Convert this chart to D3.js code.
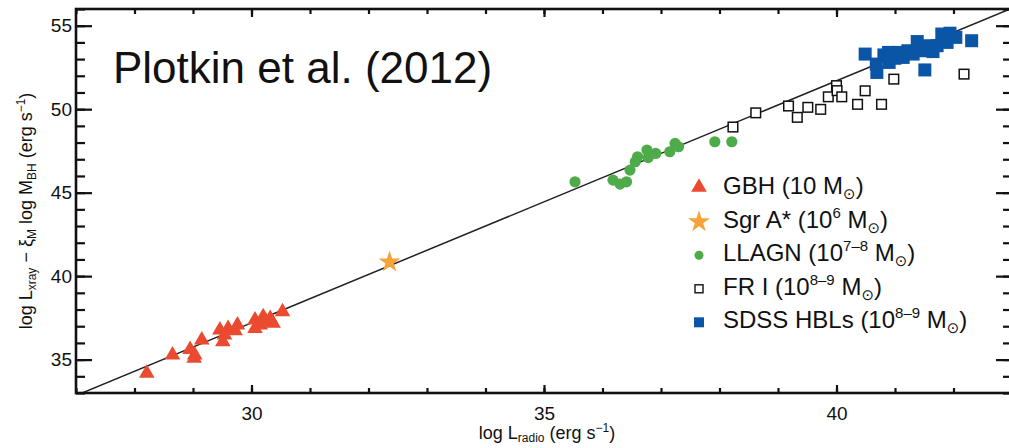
<!DOCTYPE html>
<html>
<head>
<meta charset="utf-8">
<script src="https://cdn.jsdelivr.net/npm/d3@7"></script>
<style>
  html, body { margin: 0; padding: 0; background: #fff; }
  svg { display: block; }
  text { font-family: "Liberation Sans", Arial, sans-serif; fill: #111; }
</style>
</head>
<body>
<svg id="chart" width="1009" height="448"></svg>
<script>
// Fundamental plane of black hole activity: log L_radio vs mass-corrected log L_xray
const gbh = [
  [28.21, 34.18], [28.65, 35.28], [28.95, 35.60], [29.03, 35.28], [29.02, 35.08],
  [29.15, 36.17], [29.46, 36.77], [29.51, 36.07], [29.54, 36.47], [29.60, 36.87],
  [29.72, 36.73], [29.76, 37.07], [30.06, 37.37], [30.06, 36.87], [30.15, 37.07],
  [30.20, 37.57], [30.25, 37.27], [30.32, 37.47], [30.37, 37.17], [30.53, 37.87]
];
const sgrA = [[32.36, 40.90]];
const llagn = [
  [35.53, 45.65], [36.18, 45.75], [36.30, 45.51], [36.41, 45.65], [36.47, 46.35],
  [36.56, 46.85], [36.60, 47.15], [36.76, 47.55], [36.78, 47.10], [36.91, 47.35],
  [37.15, 47.45], [37.24, 47.95], [37.30, 47.75], [37.92, 48.05], [38.21, 48.05]
];
const fr1 = [
  [38.23, 48.93], [38.62, 49.78], [39.18, 50.19], [39.33, 49.51], [39.51, 50.11],
  [39.73, 49.99], [39.86, 50.74], [40.00, 51.41], [40.01, 51.11], [40.09, 50.74],
  [40.36, 50.29], [40.49, 51.10], [40.77, 50.29], [40.98, 51.80], [42.18, 52.10]
];
const hbl = [
  [40.49, 53.30], [40.68, 52.70], [40.69, 52.20], [40.81, 53.25], [40.89, 53.40],
  [40.90, 52.80], [41.00, 53.05], [41.06, 53.40], [41.14, 53.10], [41.22, 53.50],
  [41.31, 53.30], [41.38, 54.05], [41.46, 53.50], [41.51, 52.35], [41.56, 53.80],
  [41.65, 53.45], [41.72, 53.80], [41.80, 54.50], [41.89, 54.00], [41.94, 54.55],
  [42.04, 54.30], [42.31, 54.10]
];

// Best-fit plane projection: y = slope * x + intercept
const fitSlope = 1.45;
const fitIntercept = -6.3;

const xMajor = [30, 35, 40];
const xMinor = d3.range(27, 44);
const yMajor = [35, 40, 45, 50, 55];
const yMinor = d3.range(33, 57);

const legendItems = [
  { key: "gbh",   name: "GBH (10",       sup: "" },
  { key: "sgr",   name: "Sgr A* (10",    sup: "6" },
  { key: "llagn", name: "LLAGN (10",     sup: "7–8" },
  { key: "fr1",   name: "FR I (10",      sup: "8–9" },
  { key: "hbl",   name: "SDSS HBLs (10", sup: "8–9" }
];

const colors = { gbh: "#ea4a2f", sgr: "#f6a43a", llagn: "#4fab4a", fr1: "#111", hbl: "#0b55a7" };

const svg = d3.select("#chart");
const pLeft = 76, pRight = 1012, pTop = 9, pBottom = 393;

const x = d3.scaleLinear().domain([27, 43]).range([pLeft, pRight]);
const y = d3.scaleLinear().domain([33, 56]).range([pBottom, pTop]);

svg.append("defs").append("clipPath").attr("id", "plotClip")
  .append("rect").attr("x", pLeft).attr("y", pTop)
  .attr("width", pRight - pLeft).attr("height", pBottom - pTop);

const plot = svg.append("g").attr("clip-path", "url(#plotClip)");

// Fit line
const fitLine = d3.line().x(d => x(d)).y(d => y(fitSlope * d + fitIntercept));
plot.append("path")
  .datum([26, 44])
  .attr("d", fitLine)
  .attr("fill", "none")
  .attr("stroke", "#222")
  .attr("stroke-width", 1.5);

// Markers
const tri = d3.symbol().type(d3.symbolTriangle).size(105);
const star = d3.symbol().type(d3.symbolStar).size(150);

plot.selectAll(".gbh").data(gbh).join("path")
  .attr("d", tri)
  .attr("transform", d => `translate(${x(d[0])},${y(d[1])})`)
  .attr("fill", colors.gbh);

plot.selectAll(".llagn").data(llagn).join("circle")
  .attr("cx", d => x(d[0])).attr("cy", d => y(d[1])).attr("r", 5.6)
  .attr("fill", colors.llagn);

plot.selectAll(".fr1").data(fr1).join("rect")
  .attr("x", d => x(d[0]) - 4.8).attr("y", d => y(d[1]) - 4.8)
  .attr("width", 9.6).attr("height", 9.6)
  .attr("fill", "#fff").attr("stroke", colors.fr1).attr("stroke-width", 1.5);

plot.selectAll(".hbl").data(hbl).join("rect")
  .attr("x", d => x(d[0]) - 6.5).attr("y", d => y(d[1]) - 6.5)
  .attr("width", 13).attr("height", 13)
  .attr("fill", colors.hbl);

plot.selectAll(".sgr").data(sgrA).join("path")
  .attr("d", star)
  .attr("transform", d => `translate(${x(d[0])},${y(d[1]) + 1})`)
  .attr("fill", colors.sgr);

// Axes: inward ticks on all four sides
function styleAxis(g) {
  g.select(".domain").remove();
  g.selectAll(".tick line").attr("stroke", "#111").attr("stroke-width", 2.2);
  g.selectAll("text").attr("font-size", 19).attr("fill", "#111")
    .attr("font-family", "'Liberation Sans', Arial, sans-serif");
}

svg.append("g").attr("transform", `translate(0,${pBottom})`)
  .call(d3.axisBottom(x).tickValues(xMinor).tickSize(-5).tickFormat(""))
  .call(styleAxis);
svg.append("g").attr("transform", `translate(0,${pBottom})`)
  .call(d3.axisBottom(x).tickValues(xMajor).tickSize(-8).tickPadding(14).tickFormat(d3.format("d")))
  .call(styleAxis);

svg.append("g").attr("transform", `translate(0,${pTop})`)
  .call(d3.axisTop(x).tickValues(xMinor).tickSize(-5).tickFormat(""))
  .call(styleAxis);
svg.append("g").attr("transform", `translate(0,${pTop})`)
  .call(d3.axisTop(x).tickValues(xMajor).tickSize(-8).tickFormat(""))
  .call(styleAxis);

svg.append("g").attr("transform", `translate(${pLeft},0)`)
  .call(d3.axisLeft(y).tickValues(yMinor).tickSize(-9).tickFormat(""))
  .call(styleAxis);
svg.append("g").attr("transform", `translate(${pLeft},0)`)
  .call(d3.axisLeft(y).tickValues(yMajor).tickSize(-16).tickPadding(4).tickFormat(d3.format("d")))
  .call(styleAxis);

svg.append("g").attr("transform", `translate(${pRight},0)`)
  .call(d3.axisRight(y).tickValues(yMinor).tickSize(-9).tickFormat(""))
  .call(styleAxis);
svg.append("g").attr("transform", `translate(${pRight},0)`)
  .call(d3.axisRight(y).tickValues(yMajor).tickSize(-16).tickFormat(""))
  .call(styleAxis);

// Frame
svg.append("rect")
  .attr("x", pLeft).attr("y", pTop)
  .attr("width", pRight - pLeft).attr("height", pBottom - pTop)
  .attr("fill", "none").attr("stroke", "#111").attr("stroke-width", 2.6);

// Axis titles
const xt = svg.append("text")
  .attr("x", (pLeft + pRight) / 2 + 3).attr("y", 439)
  .attr("text-anchor", "middle").attr("font-size", 18);
xt.append("tspan").text("log L");
xt.append("tspan").attr("font-size", 12).attr("dy", 3).text("radio");
xt.append("tspan").attr("dy", -3).text(" (erg s");
xt.append("tspan").attr("font-size", 12).attr("dy", -7).text("−1");
xt.append("tspan").attr("dy", 7).text(")");

const yt = svg.append("text")
  .attr("transform", `translate(32,${(pTop + pBottom) / 2 + 10}) rotate(-90)`)
  .attr("text-anchor", "middle").attr("font-size", 18);
yt.append("tspan").text("log L");
yt.append("tspan").attr("font-size", 12).attr("dy", 4).text("xray");
yt.append("tspan").attr("dy", -4).text(" − ξ");
yt.append("tspan").attr("font-size", 12).attr("dy", 4).text("M");
yt.append("tspan").attr("dy", -4).text(" log M");
yt.append("tspan").attr("font-size", 12).attr("dy", 4).text("BH");
yt.append("tspan").attr("dy", -4).text(" (erg s");
yt.append("tspan").attr("font-size", 12).attr("dy", -7).text("−1");
yt.append("tspan").attr("dy", 7).text(")");

// Title
svg.append("text")
  .attr("x", 113).attr("y", 83)
  .attr("font-family", "Lato, 'Liberation Sans', sans-serif")
  .attr("font-size", 44)
  .text("Plotkin et al. (2012)");

// Legend
const legend = svg.append("g");
const legX = 699, textX = 723, row0 = 194.3, rowStep = 33.5;
legendItems.forEach((it, i) => {
  const base = row0 + i * rowStep;
  const cy = base - 6;
  if (it.key === "gbh") {
    legend.append("path").attr("d", tri).attr("transform", `translate(${legX},${cy - 1})`).attr("fill", colors.gbh);
  } else if (it.key === "sgr") {
    legend.append("path").attr("d", star).attr("transform", `translate(${legX},${cy})`).attr("fill", colors.sgr);
  } else if (it.key === "llagn") {
    legend.append("circle").attr("cx", legX).attr("cy", cy).attr("r", 4.5).attr("fill", colors.llagn);
  } else if (it.key === "fr1") {
    legend.append("rect").attr("x", legX - 4).attr("y", cy - 4).attr("width", 8).attr("height", 8)
      .attr("fill", "#fff").attr("stroke", "#111").attr("stroke-width", 1.4);
  } else {
    legend.append("rect").attr("x", legX - 5).attr("y", cy - 5).attr("width", 10).attr("height", 10)
      .attr("fill", colors.hbl);
  }
  const t = legend.append("text").attr("x", textX).attr("y", base).attr("font-size", 24);
  t.append("tspan").text(it.name);
  if (it.sup) {
    t.append("tspan").attr("font-size", 15).attr("dy", -10).text(it.sup);
    t.append("tspan").attr("dy", 10).text(" M");
  } else {
    t.append("tspan").text(" M");
  }
  t.append("tspan").attr("font-size", 15).attr("dy", 5)
    .attr("font-family", "'DejaVu Sans', sans-serif").text("⊙");
  t.append("tspan").attr("dy", -5).text(")");
});
</script>
</body>
</html>
